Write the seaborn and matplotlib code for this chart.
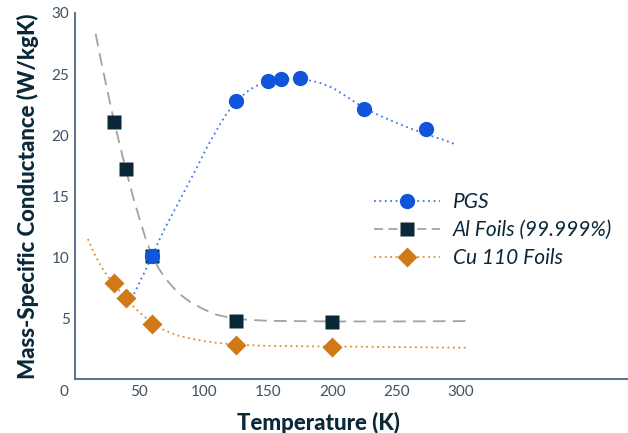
import pandas as pd
import seaborn as sns
import matplotlib.pyplot as plt
from matplotlib.lines import Line2D

# measured points
pgs_t = [60, 125, 150, 160, 175, 225, 273]
pgs_k = [10.1, 22.8, 24.45, 24.6, 24.7, 22.1, 20.5]
al_t = [30, 40, 60, 125, 200]
al_k = [21.1, 17.2, 10.1, 4.8, 4.7]
cu_t = [30, 40, 60, 125, 200]
cu_k = [7.9, 6.7, 4.55, 2.8, 2.68]

# trend curves
pgs_fit_t = [44, 50, 55, 60, 65, 70, 75, 80, 87, 95, 103, 110, 118, 125, 133, 140, 150, 160, 175, 190, 200, 212, 225, 237, 250, 262, 275, 287, 297]
pgs_fit_k = [6.6, 7.9, 9.0, 10.1, 11.3, 12.4, 13.4, 14.4, 15.8, 17.4, 19.1, 20.4, 21.8, 22.7, 23.5, 24.0, 24.4, 24.6, 24.65, 24.3, 23.9, 23.1, 22.2, 21.6, 21.0, 20.5, 20.0, 19.6, 19.2]
al_fit_t = [16, 20, 25, 30, 35, 40, 45, 50, 55, 60, 65, 70, 80, 90, 100, 110, 125, 150, 200, 250, 304]
al_fit_k = [28.3, 26.2, 23.7, 21.3, 19.1, 17.0, 15.0, 13.2, 11.5, 10.1, 9.1, 8.3, 7.1, 6.3, 5.75, 5.3, 4.95, 4.8, 4.75, 4.75, 4.78]
cu_fit_t = [10, 15, 20, 25, 30, 35, 40, 45, 50, 60, 70, 80, 90, 100, 110, 125, 150, 200, 250, 304]
cu_fit_k = [11.5, 10.3, 9.3, 8.5, 7.9, 7.2, 6.65, 6.0, 5.5, 4.6, 4.0, 3.6, 3.35, 3.15, 3.0, 2.85, 2.75, 2.7, 2.65, 2.6]

x_ticks = [50, 100, 150, 200, 250, 300]
y_ticks = [5, 10, 15, 20, 25, 30]

navy = '#0b2839'
blue = '#1155dd'
orange = '#cf7a17'
tick_col = '#3e5264'
spine_col = '#5f7791'

sns.set_style('white')
plt.rcParams['font.family'] = ['Lato', 'DejaVu Sans']

fig = plt.figure(figsize=(6.28, 4.33), dpi=100)
ax = fig.add_axes([0.1195, 0.1236, 0.8805, 0.8464])

sns.lineplot(x=al_fit_t, y=al_fit_k, ax=ax, color='#a2a2a2', lw=1.3,
             linestyle=(0, (7, 4)), sort=False, legend=False)
sns.lineplot(x=cu_fit_t, y=cu_fit_k, ax=ax, color='#e08a2c', lw=1.3,
             linestyle=(0, (1, 2)), sort=False, legend=False)
sns.lineplot(x=pgs_fit_t, y=pgs_fit_k, ax=ax, color='#3f78e6', lw=1.3,
             linestyle=(0, (1, 2)), sort=False, legend=False)

ax.plot(cu_t, cu_k, 'D', color=orange, ms=10.5, mec='none', zorder=3)
ax.plot(al_t, al_k, 's', color=navy, ms=10.5, mec='none', zorder=4)
ax.plot(pgs_t, pgs_k, 'o', color=blue, ms=11, mec='none', zorder=5)

ax.set_xlim(0, 430)
ax.set_ylim(0, 30)
ax.set_xticks(x_ticks)
ax.set_yticks(y_ticks)
ax.tick_params(direction='in', length=6, width=1.3, color=navy,
               labelcolor=tick_col, labelsize=11, pad=4)
ax.annotate('0', xy=(0, 0), xytext=(-5, -4), textcoords='offset points',
            ha='right', va='top', color=tick_col, fontsize=11)
for s in ['top', 'right']:
    ax.spines[s].set_visible(False)
for s in ['left', 'bottom']:
    ax.spines[s].set_color(spine_col)
    ax.spines[s].set_linewidth(1.5)

ax.set_xlabel('Temperature (K)', fontsize=16, fontweight='black',
              color=navy)
ax.xaxis.set_label_coords(0.44, -0.088)
ax.set_ylabel('Mass-Specific Conductance (W/kgK)', fontsize=16,
              fontweight='black', color=navy, labelpad=9)

handles = [
    Line2D([], [], color='#3f78e6', lw=1.3, linestyle=(0, (1, 2)),
           marker='o', ms=11, mfc=blue, mec='none'),
    Line2D([], [], color='#a2a2a2', lw=1.3, linestyle=(0, (5, 3)),
           marker='s', ms=10.5, mfc=navy, mec='none'),
    Line2D([], [], color='#e08a2c', lw=1.3, linestyle=(0, (1, 2)),
           marker='D', ms=10.5, mfc=orange, mec='none'),
]
labels = ['PGS', 'Al Foils (99.999%)', 'Cu 110 Foils']
leg = ax.legend(handles, labels, loc='upper left',
                bbox_to_anchor=(0.506, 0.562), frameon=False,
                prop={'style': 'italic', 'size': 15}, handlelength=3.2,
                labelspacing=0.38, handletextpad=0.6)
for t in leg.get_texts():
    t.set_color(navy)

fig.savefig('out.png', dpi=100)
